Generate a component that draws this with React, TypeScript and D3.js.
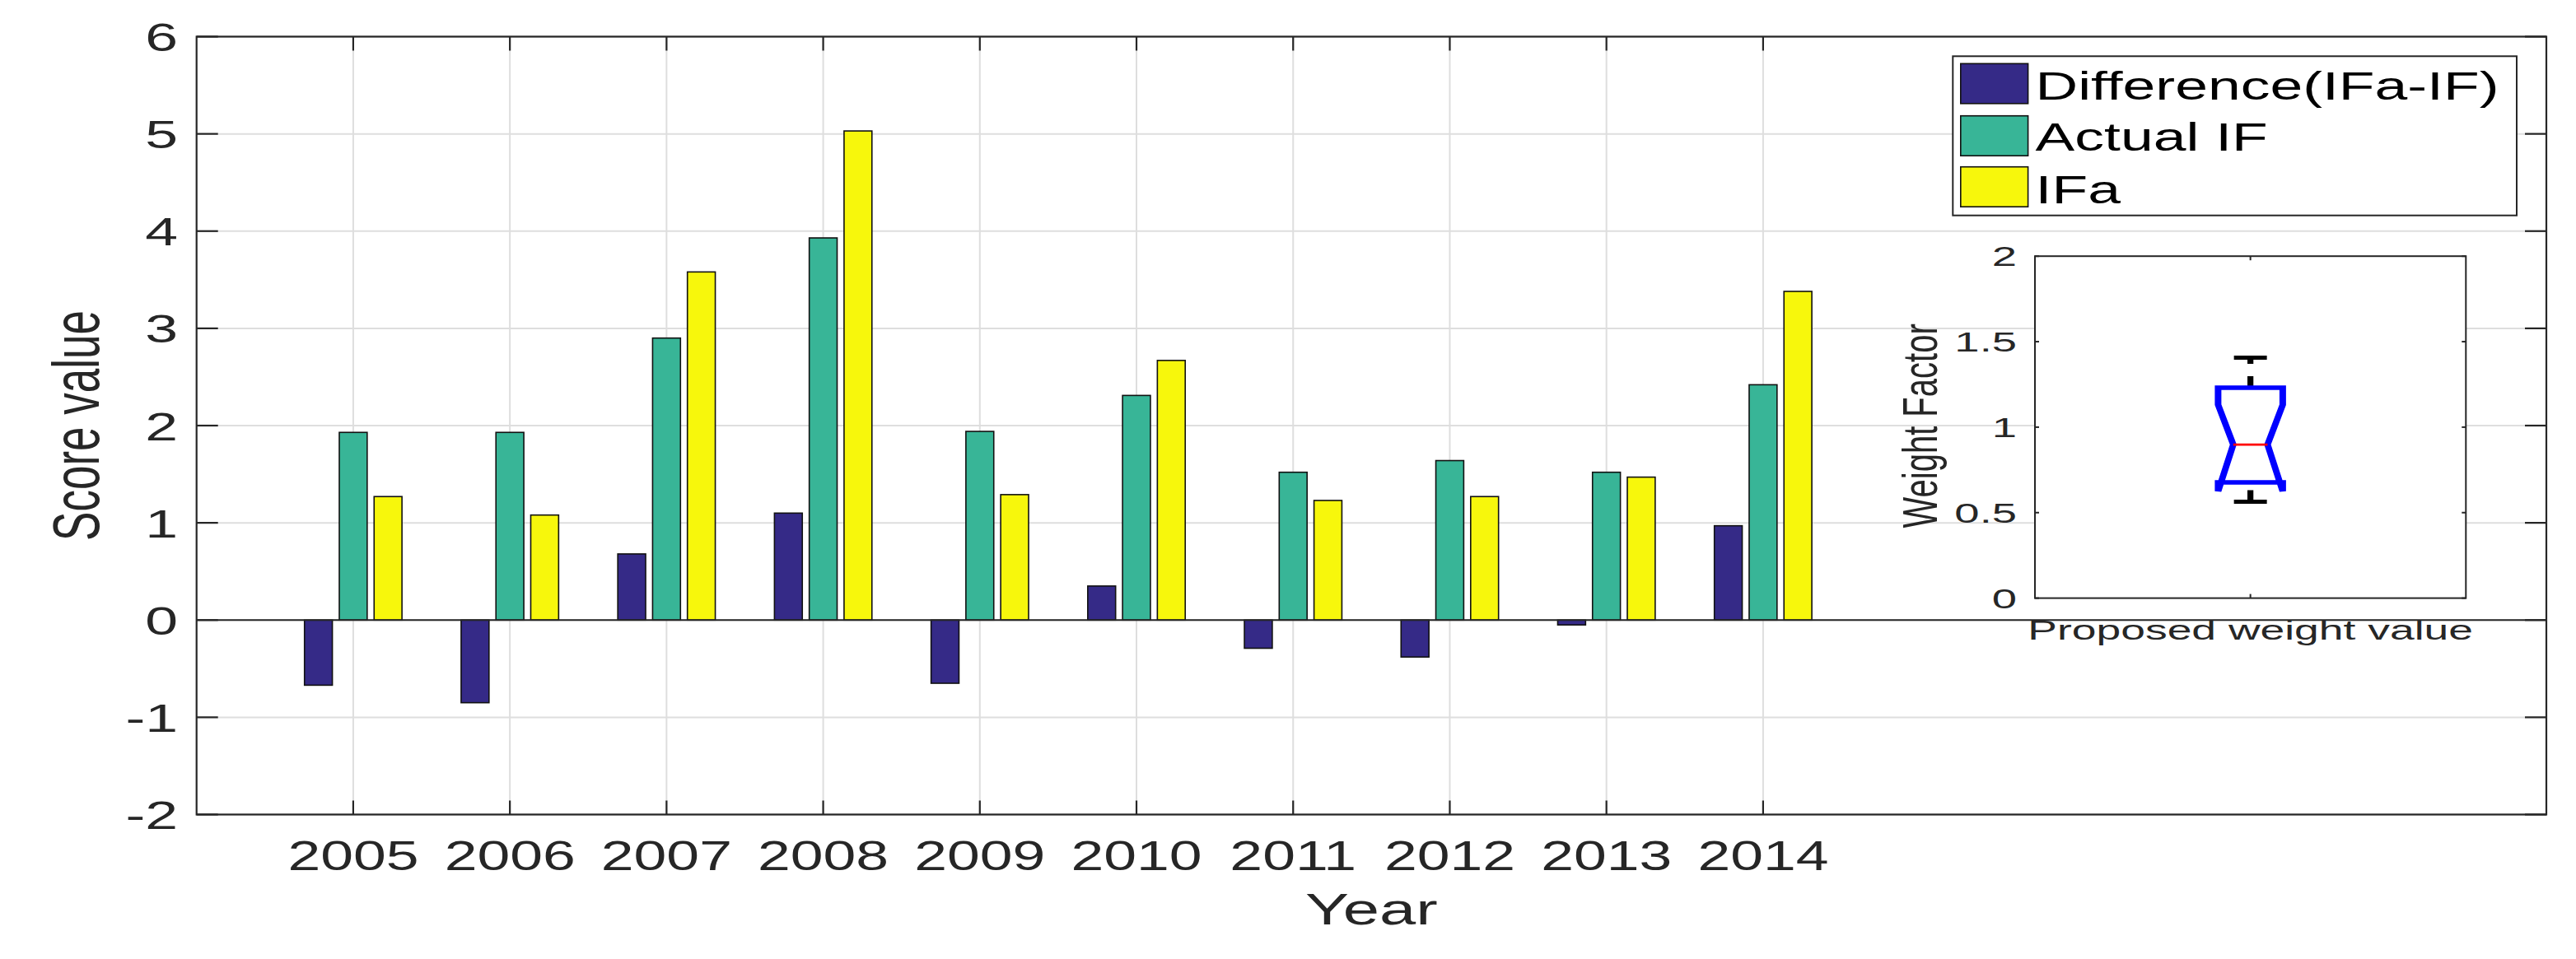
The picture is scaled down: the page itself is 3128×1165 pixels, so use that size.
import React from "react";
import * as d3 from "d3";

// ---------- data ----------
const years = ["2005", "2006", "2007", "2008", "2009", "2010", "2011", "2012", "2013", "2014"];
const differenceValues = [-0.67, -0.85, 0.68, 1.1, -0.65, 0.35, -0.29, -0.38, -0.05, 0.97];
const actualIFValues = [1.93, 1.93, 2.9, 3.93, 1.94, 2.31, 1.52, 1.64, 1.52, 2.42];
const ifaValues = [1.27, 1.08, 3.58, 5.03, 1.29, 2.67, 1.23, 1.27, 1.47, 3.38];
const seriesNames = ["Difference(IFa-IF)", "Actual IF", "IFa"];
const seriesColors = ["#352a87", "#38b597", "#f7f70c"];
const yTicks = [-2, -1, 0, 1, 2, 3, 4, 5, 6];
const insetTicks = [0, 0.5, 1, 1.5, 2];
const insetTickLabels = ["0", "0.5", "1", "1.5", "2"];
// box plot of proposed weight values
const boxWhiskerLow = [0.564];
const boxQ1 = [0.677];
const boxMedian = [0.898];
const boxQ3 = [1.231];
const boxWhiskerHigh = [1.406];
const boxNotchLow = [0.625];
const boxNotchHigh = [1.131];

// ---------- layout ----------
const W = 3128;
const H = 1165;
const XS = 1.46; // horizontal stretch of the figure's text
const FONT = "Liberation Sans, Arial, Helvetica, sans-serif";
const AX = "#262626";
const GRID = "#dedede";

const x = d3.scaleLinear().domain([0, 15]).range([238.7, 3092]);
const y = d3.scaleLinear().domain([-2, 6]).range([989.5, 44.5]);

const groupStep = 0.2222;
const barW = 0.178;

const ix = d3.scaleLinear().domain([0.5, 1.5]).range([2471, 2994.3]);
const iy = d3.scaleLinear().domain([0, 2]).range([726.6, 311.2]);

function SText(props: {
  x: number; y: number; size: number; anchor?: string; xs?: number; rotate?: boolean; fill?: string; children: any;
}) {
  const { x: tx, y: ty, size, anchor = "start", xs = XS, rotate = false, fill = AX, children } = props;
  return (
    <g transform={`translate(${tx},${ty}) scale(${xs},1)${rotate ? " rotate(-90)" : ""}`}>
      <text textAnchor={anchor} fontSize={size} fontFamily={FONT} fill={fill}>
        {children}
      </text>
    </g>
  );
}

export default function App() {
  const series = [differenceValues, actualIFValues, ifaValues];
  const xl = x.range()[0];
  const xr = x.range()[1];
  const yt = y.range()[1];
  const yb = y.range()[0];

  // box plot geometry (drawn in a horizontally stretched group, like the figure)
  const BX = 1.45;
  const cx = ix(1);
  const hw = (ix(1 + 0.075) - cx) / BX;
  const nw = (ix(1 + 0.0398) - cx) / BX;
  const capW = (ix(1 + 0.0382) - cx) / BX;
  const q1 = iy(boxQ1[0]);
  const q3 = iy(boxQ3[0]);
  const med = iy(boxMedian[0]);
  const nLo = iy(boxNotchLow[0]);
  const nHi = iy(boxNotchHigh[0]);
  const wLo = iy(boxWhiskerLow[0]);
  const wHi = iy(boxWhiskerHigh[0]);
  const notchPts: [number, number][] = [
    [-hw, q1], [-hw, nLo], [-nw, med], [-hw, nHi], [-hw, q3],
    [hw, q3], [hw, nHi], [nw, med], [hw, nLo], [hw, q1], [-hw, q1],
  ];
  const notchPath = (d3.line()(notchPts) as string) + "Z";

  const ixl = ix.range()[0];
  const ixr = ix.range()[1];
  const iyt = iy.range()[1];
  const iyb = iy.range()[0];

  const legendRows = [
    { top: 77.3, base: 120.7 },
    { top: 140.7, base: 183.3 },
    { top: 202.7, base: 246.7 },
  ];

  return (
    <svg width={W} height={H} style={{ position: "absolute", left: 0, top: 0, display: "block", background: "#fff" }}>
      <rect x={0} y={0} width={W} height={H} fill="#fff" />
      {/* grid */}
      {yTicks.map((t) => (
        <line key={"gy" + t} x1={xl} x2={xr} y1={y(t)} y2={y(t)} stroke={GRID} strokeWidth={2} />
      ))}
      {years.map((yr, i) => (
        <line key={"gx" + yr} x1={x(i + 1)} x2={x(i + 1)} y1={yt} y2={yb} stroke={GRID} strokeWidth={2} />
      ))}
      {/* bars */}
      {series.map((vals, s) =>
        vals.map((v, i) => {
          const c = i + 1 + (s - 1) * groupStep;
          const x0 = x(c - barW / 2);
          const x1 = x(c + barW / 2);
          const y0 = y(Math.max(0, v));
          const y1 = y(Math.min(0, v));
          return (
            <rect key={`b${s}-${i}`} x={x0} y={y0} width={x1 - x0} height={y1 - y0}
              fill={seriesColors[s]} stroke="#111" strokeWidth={1.6} />
          );
        })
      )}
      {/* baseline */}
      <line x1={xl} x2={xr} y1={y(0)} y2={y(0)} stroke={AX} strokeWidth={2.2} />
      {/* axes box */}
      <rect x={xl} y={yt} width={xr - xl} height={yb - yt} fill="none" stroke={AX} strokeWidth={2.2} />
      {/* y ticks */}
      {yTicks.map((t) => (
        <g key={"ty" + t}>
          <line x1={xl} x2={xl + 26} y1={y(t)} y2={y(t)} stroke={AX} strokeWidth={2.2} />
          <line x1={xr - 26} x2={xr} y1={y(t)} y2={y(t)} stroke={AX} strokeWidth={2.2} />
          <SText x={216} y={y(t) + 17.5} size={49} anchor="end">{String(t)}</SText>
        </g>
      ))}
      {/* x ticks */}
      {years.map((yr, i) => (
        <g key={"tx" + yr}>
          <line x1={x(i + 1)} x2={x(i + 1)} y1={yb} y2={yb - 17} stroke={AX} strokeWidth={2.2} />
          <line x1={x(i + 1)} x2={x(i + 1)} y1={yt} y2={yt + 17} stroke={AX} strokeWidth={2.2} />
          <SText x={x(i + 1)} y={1056.7} size={50} anchor="middle" xs={1.43}>{yr}</SText>
        </g>
      ))}
      <SText x={(xl + xr) / 2} y={1123.3} size={53} anchor="middle" xs={1.5}>Year</SText>
      <SText x={120} y={517} size={53} anchor="middle" xs={1.52} rotate>Score value</SText>

      {/* inset axes */}
      <rect x={ixl} y={iyt} width={ixr - ixl} height={iyb - iyt} fill="#fff" stroke={AX} strokeWidth={2} />
      {insetTicks.map((t, k) => (
        <g key={"it" + t}>
          <line x1={ixl} x2={ixl + 5} y1={iy(t)} y2={iy(t)} stroke={AX} strokeWidth={2} />
          <line x1={ixr - 5} x2={ixr} y1={iy(t)} y2={iy(t)} stroke={AX} strokeWidth={2} />
          <SText x={2449} y={iy(t) + 12.2} size={34} anchor="end" xs={1.6}>{insetTickLabels[k]}</SText>
        </g>
      ))}
      <line x1={cx} x2={cx} y1={iyb} y2={iyb - 5} stroke={AX} strokeWidth={2} />
      <line x1={cx} x2={cx} y1={iyt} y2={iyt + 5} stroke={AX} strokeWidth={2} />
      <SText x={cx} y={776.7} size={33} anchor="middle" xs={1.62}>Proposed weight value</SText>
      <SText x={2351.7} y={517.4} size={40} anchor="middle" xs={1.5} rotate>Weight Factor</SText>
      {/* box plot */}
      <g transform={`translate(${cx},0) scale(${BX},1)`}>
        <line x1={0} x2={0} y1={wHi} y2={q3} stroke="#000" strokeWidth={5} strokeDasharray="7.5 15 14.5" />
        <line x1={0} x2={0} y1={wLo} y2={q1} stroke="#000" strokeWidth={5} strokeDasharray="14 12" />
        <line x1={-capW} x2={capW} y1={wHi} y2={wHi} stroke="#000" strokeWidth={5} />
        <line x1={-capW} x2={capW} y1={wLo} y2={wLo} stroke="#000" strokeWidth={5} />
        <path d={notchPath} fill="none" stroke="#0000ff" strokeWidth={5.5} strokeLinejoin="miter" strokeMiterlimit={2} />
        <line x1={-nw} x2={nw} y1={med} y2={med} stroke="#ff0000" strokeWidth={2.7} />
      </g>

      {/* legend */}
      <rect x={2371.3} y={68.3} width={3056 - 2371.3} height={261.7 - 68.3} fill="#fff" stroke={AX} strokeWidth={2} />
      {seriesNames.map((name, s) => (
        <g key={"lg" + s}>
          <rect x={2380.8} y={legendRows[s].top} width={2462.6 - 2380.8} height={48.5}
            fill={seriesColors[s]} stroke="#111" strokeWidth={1.6} />
          <SText x={2471.6} y={legendRows[s].base} size={48} anchor="start" xs={1.49} fill="#000">{name}</SText>
        </g>
      ))}
    </svg>
  );
}
